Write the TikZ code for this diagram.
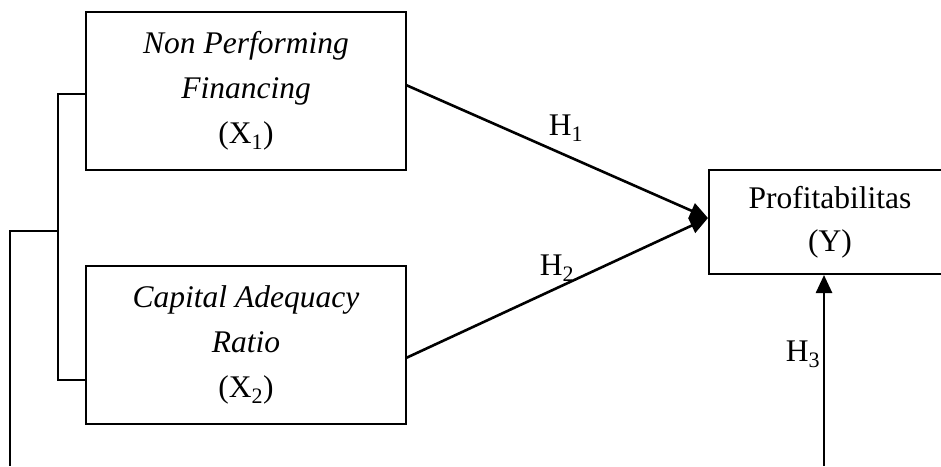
\documentclass[tikz,border=0pt]{standalone}
\usepackage{fontspec}
\setmainfont{Liberation Serif}
\usetikzlibrary{arrows.meta}
\tikzset{
  varbox/.style={draw, line width=2pt, minimum width=320pt, minimum height=158pt,
    align=center, inner sep=0pt, font=\fontsize{31.5}{45}\selectfont},
  ybox/.style={draw, line width=2pt, minimum width=242pt, minimum height=104pt,
    align=center, inner sep=0pt, font=\fontsize{31.5}{43}\selectfont},
  link/.style={line width=1.7pt},
  effect/.style={line width=2.6pt, -{Triangle[length=18pt, width=16pt]}},
  hlabel/.style={inner sep=0pt, font=\fontsize{31.5}{36}\selectfont}
}
\begin{document}
\begin{tikzpicture}[x=1pt, y=-1pt]
  \useasboundingbox (0,0) rectangle (941,466);
  \begin{scope}
    \clip (0,0) rectangle (941,466);
    % variable boxes
    \node[varbox] (npf) at (246,91) {\textit{Non Performing}\\\textit{Financing}\\(X\textsubscript{1})};
    \node[varbox] (car) at (246,344.5) {\textit{Capital Adequacy}\\\textit{Ratio}\\(X\textsubscript{2})};
    \node[ybox] (roa) at (830,222) {Profitabilitas\\(Y)};
  \end{scope}
  % bracket joining the two independent variables
  \coordinate (bt) at (58,94);
  \coordinate (bb) at (58,380);
  \coordinate (bm) at (58,231);
  \coordinate (ol) at (10,231);
  \coordinate (ob) at (10,466);
  \draw[link] (npf.west |- bt) -- (bt) -- (bb) -- (car.west |- bb);
  \draw[link] (bm) -- (ol) -- (ob);
  % hypothesis arrows
  \coordinate (h1s) at (406,85);
  \coordinate (h2s) at (406,358);
  \coordinate (tip) at (709,218);
  \coordinate (h3s) at (824,466);
  \draw[effect] (h1s) -- (roa.west |- tip);
  \draw[effect] (h2s) -- (roa.west |- tip);
  \draw[effect] (h3s) -- (roa.south -| h3s);
  % hypothesis labels
  \node[hlabel] (l1) at (566,128) {H\textsubscript{1}};
  \node[hlabel] (l2) at (557,268) {H\textsubscript{2}};
  \node[hlabel] (l3) at (803,354) {H\textsubscript{3}};
\end{tikzpicture}
\end{document}
